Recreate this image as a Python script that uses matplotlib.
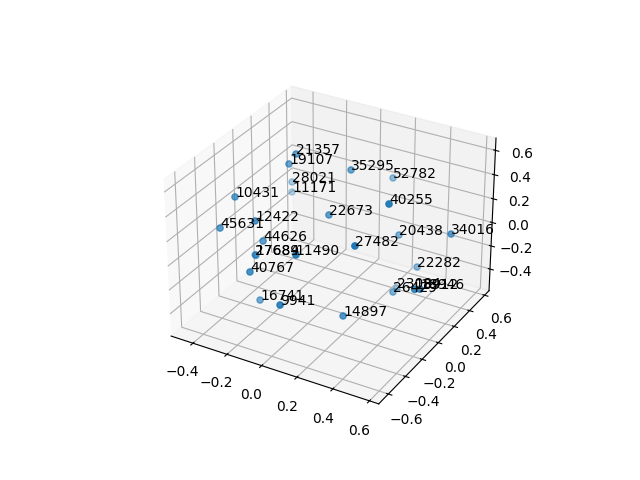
import numpy as np
import matplotlib
matplotlib.use('Agg')
import matplotlib.pyplot as plt

labels = ['21357','19107','28021','11171','10431','12422','45631','44626','27689','17684','11490','40767','16741','9941','14897','22673','27482','35295','52782','40255','20438','34016','22282','23084','18912','18946','26429']
x = [-0.140,-0.181,-0.333,-0.352,-0.340,-0.194,-0.365,-0.167,-0.249,-0.246,0.129,-0.125,-0.166,0.093,0.291,0.080,0.385,0.091,0.169,0.450,0.321,0.620,0.413,0.298,0.599,0.620,0.366]
y = [-0.043,-0.043,0.277,0.312,-0.333,-0.392,-0.452,-0.362,-0.299,-0.297,-0.571,-0.583,-0.409,-0.677,-0.376,-0.111,-0.439,0.119,0.460,-0.194,0.214,0.189,0.245,0.252,-0.198,-0.181,0.054]
z = [0.669,0.573,0.178,0.065,0.413,0.313,0.221,0.141,-0.048,-0.053,0.287,0.047,-0.321,-0.064,-0.269,0.302,0.384,0.536,0.302,0.591,0.035,0.184,-0.216,-0.452,-0.030,-0.030,-0.324]

fig = plt.figure()
ax = fig.add_subplot(projection='3d')
ax.scatter(x, y, z)
for i in range(len(labels)):
    ax.text(x[i], y[i], z[i], labels[i])
ax.set_xlim(-0.53, 0.65)
ax.set_ylim(-0.71, 0.66)
ax.set_zlim(-0.59, 0.70)
fig.savefig('out.png')
